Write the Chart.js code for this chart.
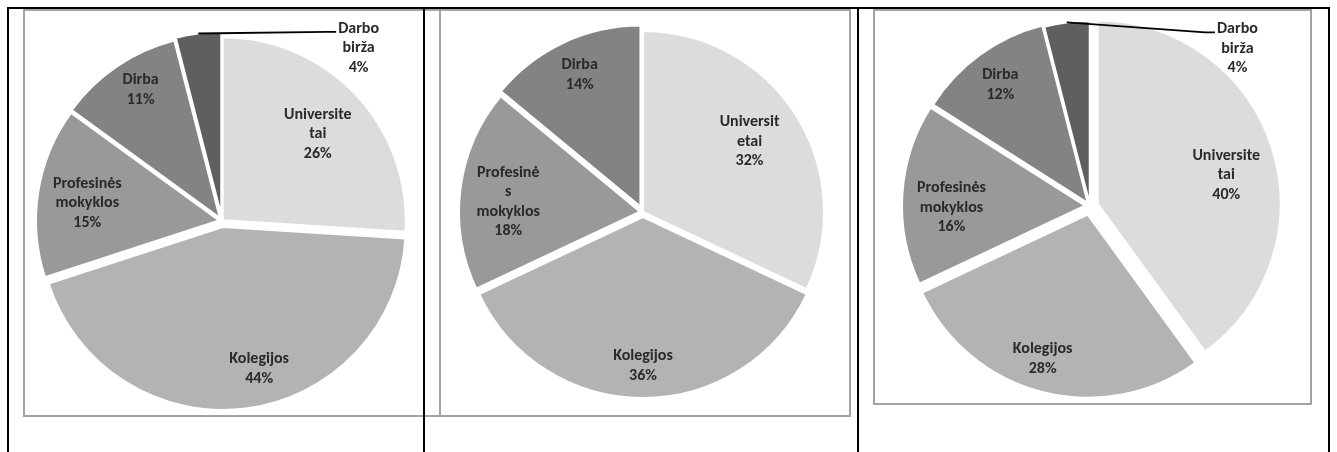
<!DOCTYPE html>
<html><head><meta charset="utf-8">
<script src="https://cdn.jsdelivr.net/npm/chart.js@4.4.1/dist/chart.umd.min.js"></script>
<style>
html,body{margin:0;padding:0;background:#fff;}
body{width:1337px;height:452px;position:relative;overflow:hidden;}
.box{position:absolute;border:2px solid #a3a3a3;box-sizing:border-box;}
.bl{position:absolute;background:#000;}
canvas{position:absolute;left:0;top:0;}
</style></head><body>
<div class="box" style="left:23px;top:9px;width:418px;height:408px"></div>
<div class="box" style="left:439px;top:9px;width:412px;height:408px"></div>
<div class="box" style="left:873px;top:9px;width:439px;height:396px"></div>
<canvas id="c1" width="1337" height="452"></canvas>
<canvas id="c2" width="1337" height="452"></canvas>
<canvas id="c3" width="1337" height="452"></canvas>
<div class="bl" style="left:7px;top:7px;width:1323px;height:2px"></div>
<div class="bl" style="left:7px;top:7px;width:2px;height:445px"></div>
<div class="bl" style="left:423px;top:7px;width:2px;height:445px"></div>
<div class="bl" style="left:857px;top:7px;width:2px;height:445px"></div>
<div class="bl" style="left:1328px;top:7px;width:2px;height:445px"></div>
<script>
// ---- data ----
const categories1 = ["Universitetai", "Kolegijos", "Profesinės mokyklos", "Dirba", "Darbo birža"];
const values1 = [26, 44, 15, 11, 4];
const categories2 = ["Universitetai", "Kolegijos", "Profesinės mokyklos", "Dirba"];
const values2 = [32, 36, 18, 14];
const categories3 = ["Universitetai", "Kolegijos", "Profesinės mokyklos", "Dirba", "Darbo birža"];
const values3 = [40, 28, 16, 12, 4];
const sliceColors = ["#dcdcdc", "#b3b3b3", "#999999", "#838383", "#5f5f5f"];

// ---- styling / layout ----
const FONT = "bold 16px Carlito, Lato, sans-serif";
const LINE_H = 19.5;
const TEXT_COLOR = "#2a2a2a";
const W = 1337, H = 452;

const setups = [
  { id: "c1", cats: categories1, vals: values1, cx: 222, cy: 221, r: 183, wrap: 10,
    explode: [1, 6, 3, 4, 6],
    lbl: [[0.70, 1.1], [0.80, -7.2], [0.726, -1.6], [0.82, 2.4], [1.18, 46.7]],
    outside: [false, false, false, false, true] },
  { id: "c2", cats: categories2, vals: values2, cx: 643, cy: 212, r: 181, wrap: 9,
    explode: [0, 5, 3, 6],
    lbl: [[0.705, -1.0], [0.822, 0], [0.73, -3.0], [0.80, 0.4]],
    outside: [false, false, false, false] },
  { id: "c3", cats: categories3, vals: values3, cx: 1090, cy: 206, r: 183, wrap: 10,
    explode: [8, 9, 5, 4, 2],
    lbl: [[0.72, 5.5], [0.825, 3], [0.73, -4.4], [0.80, -0.6], [1.17, 50.8]],
    outside: [false, false, false, false, true] }
];

function wrapText(text, max) {
  const words = text.split(" ");
  const lines = [];
  let cur = "";
  for (let w of words) {
    while (w.length > max) {
      if (cur) { lines.push(cur); cur = ""; }
      lines.push(w.slice(0, max));
      w = w.slice(max);
    }
    if (!cur) cur = w;
    else if ((cur + " " + w).length <= max) cur += " " + w;
    else { lines.push(cur); cur = w; }
  }
  if (cur) lines.push(cur);
  return lines;
}

function pad(c, total) {
  const d = 2 * c - total;
  return d >= 0 ? [d, 0] : [0, -d];
}

setups.forEach(s => {
  const explodePlugin = {
    id: "explode_" + s.id,
    afterDatasetsUpdate(chart) {
      const meta = chart.getDatasetMeta(0);
      meta.data.forEach((el, i) => {
        const mid = (el.startAngle + el.endAngle) / 2;
        const t = s.explode[i] || 0;
        el.x += Math.cos(mid) * t;
        el.y += Math.sin(mid) * t;
      });
    }
  };
  const labelPlugin = {
    id: "labels_" + s.id,
    afterDatasetsDraw(chart) {
      const ctx = chart.ctx;
      const meta = chart.getDatasetMeta(0);
      const total = s.vals.reduce((a, b) => a + b, 0);
      ctx.save();
      ctx.font = FONT;
      ctx.fillStyle = TEXT_COLOR;
      ctx.textAlign = "center";
      ctx.textBaseline = "middle";
      meta.data.forEach((el, i) => {
        const mid = (el.startAngle + el.endAngle) / 2;
        const [f, sh] = s.lbl[i];
        const a = mid + sh * Math.PI / 180;
        const px = el.x + Math.cos(a) * f * el.outerRadius;
        const py = el.y + Math.sin(a) * f * el.outerRadius;
        const lines = wrapText(s.cats[i], s.wrap);
        lines.push(Math.round(s.vals[i] / total * 100) + "%");
        const y0 = py - (lines.length - 1) * LINE_H / 2;
        if (s.outside[i]) {
          const wmax = Math.max(...lines.map(l => ctx.measureText(l).width));
          const left = px - wmax / 2;
          const sx = el.x + Math.cos(mid) * el.outerRadius;
          const sy = el.y + Math.sin(mid) * el.outerRadius;
          ctx.save();
          ctx.strokeStyle = "#000";
          ctx.lineWidth = 1.8;
          ctx.beginPath();
          ctx.moveTo(sx, sy);
          ctx.lineTo(left - 12, y0 + 3);
          ctx.lineTo(left - 2, y0 + 3);
          ctx.stroke();
          ctx.restore();
        }
        lines.forEach((l, k) => ctx.fillText(l, px, y0 + k * LINE_H));
      });
      ctx.restore();
    }
  };
  const [pl, pr] = pad(s.cx, W);
  const [pt, pb] = pad(s.cy, H);
  new Chart(document.getElementById(s.id), {
    type: "pie",
    data: {
      labels: s.cats,
      datasets: [{
        data: s.vals,
        backgroundColor: sliceColors.slice(0, s.vals.length),
        borderColor: "#ffffff",
        borderWidth: 2
      }]
    },
    options: {
      responsive: false,
      animation: false,
      events: [],
      radius: s.r,
      layout: { padding: { left: pl, right: pr, top: pt, bottom: pb } },
      plugins: { legend: { display: false }, tooltip: { enabled: false } }
    },
    plugins: [explodePlugin, labelPlugin]
  });
});
</script>
</body></html>
